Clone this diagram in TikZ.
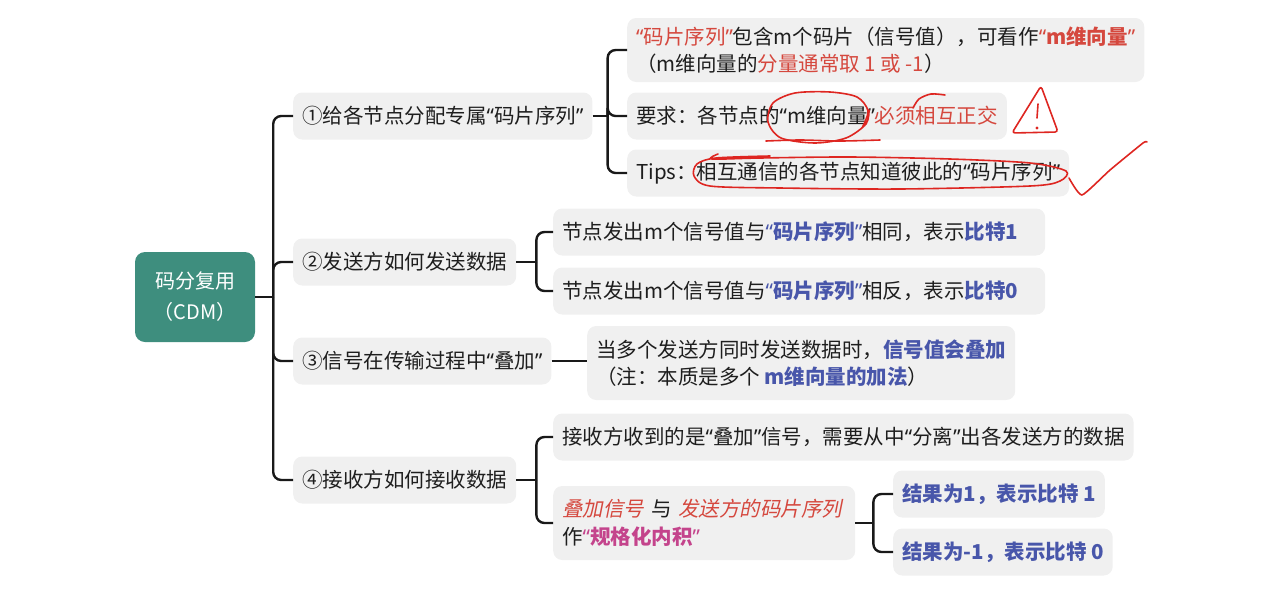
\documentclass[tikz,border=0pt]{standalone}
\usepackage{fontspec}
\setmainfont{Noto Sans CJK SC}
\newfontfamily\slantcjk[FakeSlant=0.2]{Noto Sans CJK SC}
\newfontfamily\quotefont{Noto Sans}
\usetikzlibrary{calc}

\definecolor{cdmteal}{RGB}{62,142,126}
\definecolor{boxgray}{RGB}{240,240,240}
\definecolor{inktext}{RGB}{30,30,30}
\definecolor{cdmred}{RGB}{213,72,62}
\definecolor{cdmblue}{RGB}{72,86,170}
\definecolor{cdmpink}{RGB}{196,68,140}
\definecolor{penred}{RGB}{222,38,33}

% narrow quotes
\newcommand{\oq}{{\quotefont “}}
\newcommand{\cq}{{\quotefont ”}}

\newcommand{\redtxt}[1]{\textcolor{cdmred}{#1}}
\newcommand{\redbf}[1]{\textcolor{cdmred}{\bfseries #1}}
\newcommand{\redit}[1]{\textcolor{cdmred}{\slantcjk #1}}
\newcommand{\bluebf}[1]{\textcolor{cdmblue}{\bfseries #1}}
\newcommand{\pinkbf}[1]{\textcolor{cdmpink}{\bfseries #1}}

\tikzset{
  rootbox/.style={fill=cdmteal, text=white, rounded corners=10pt,
    minimum width=120pt, minimum height=90pt, align=center,
    font=\fontsize{20}{31}\selectfont},
  topic/.style={fill=boxgray, text=inktext, rounded corners=9pt,
    inner xsep=9pt, minimum height=47pt, anchor=west, align=left,
    font=\fontsize{20.5}{27.5}\selectfont},
  tall/.style={minimum height=74pt},
  link/.style={draw=black!90, line width=2.4pt, rounded corners=8pt},
  pen/.style={draw=penred, line width=1.6pt, line cap=round, line join=round}
}

\begin{document}
\begin{tikzpicture}[x=1pt, y=-1pt]
    \useasboundingbox (0,0) rectangle (1288,592);

    % root
    \node[rootbox] (root) at (195,297) {码分复用\\（CDM）};

    % first level
    \node[topic] (b1) at (293,116) {①给各节点分配专属\oq 码片序列\cq};
    \node[topic] (b2) at (293,262) {②发送方如何发送数据};
    \node[topic] (b3) at (293,361) {③信号在传输过程中\oq 叠加\cq};
    \node[topic] (b4) at (293,480) {④接收方如何接收数据};

    % leaves of b1
    \node[topic, minimum height=64pt] (l11) at (627,50) {\redtxt{\oq 码片序列\cq}包含m个码片（信号值），可看作\redbf{\oq m维向量\cq}\\（m维向量的\redtxt{分量通常取 1 或 -1}）};
    \node[topic] (l12) at (627,116) {要求：各节点的\oq m维向量\cq\redtxt{必须相互正交}};
    \node[topic] (l13) at (627,173) {Tips：相互通信的各节点知道彼此的\oq 码片序列\cq};

    % leaves of b2
    \node[topic, text width=474pt] (l21) at (553,232) {节点发出m个信号值与\bluebf{\oq 码片序列\cq}相同，表示\bluebf{比特1}};
    \node[topic, text width=474pt] (l22) at (553,291) {节点发出m个信号值与\bluebf{\oq 码片序列\cq}相反，表示\bluebf{比特0}};

    % leaf of b3
    \node[topic, tall] (l31) at (587,363) {当多个发送方同时发送数据时，\bluebf{信号值会叠加}\\（注：本质是多个 \bluebf{m维向量的加法}）};

    % leaves of b4
    \node[topic] (l41) at (553,437) {接收方收到的是\oq 叠加\cq 信号，需要从中\oq 分离\cq 出各发送方的数据};
    \node[topic, tall, text width=284pt] (l42) at (553,523) {\redit{叠加信号} 与 \redit{发送方的码片序列}\\作\pinkbf{\oq 规格化内积\cq}};
    \node[topic] (l421) at (893,494) {\bluebf{结果为1，表示比特 1}};
    \node[topic] (l422) at (893,552) {\bluebf{结果为-1，表示比特 0}};

    % brackets
    \coordinate (rj) at ($(root.east)+(18,0)$);
    \draw[link] (root.east) -- (rj);
    \foreach \n in {b1,b2,b3,b4}
        \draw[link] (rj) |- (\n.west);

    \coordinate (j1) at ($(b1.east)+(15,0)$);
    \draw[link] (b1.east) -- (j1);
    \foreach \n in {l11,l12,l13}
        \draw[link] (j1) |- (\n.west);

    \coordinate (j2) at ($(b2.east)+(20,0)$);
    \draw[link] (b2.east) -- (j2);
    \foreach \n in {l21,l22}
        \draw[link] (j2) |- (\n.west);

    \draw[link] (b3.east) -- (b3.east -| l31.west);

    \coordinate (j4) at ($(b4.east)+(20,0)$);
    \draw[link] (b4.east) -- (j4);
    \foreach \n in {l41,l42}
        \draw[link] (j4) |- (\n.west);

    \coordinate (j42) at ($(l42.east)+(18,0)$);
    \draw[link] (l42.east) -- (j42);
    \foreach \n in {l421,l422}
        \draw[link] (j42) |- (\n.west);

    % red pen marks
    \draw[pen] plot[smooth] coordinates {(862,128) (868,111) (857,97) (830,92) (795,93) (773,103) (768,122) (781,138) (815,143) (846,138) (866,124) (869,110)};
    \draw[pen] plot[smooth] coordinates {(766,141) (800,140) (840,141) (880,140)};
    \draw[pen] plot[smooth] coordinates {(913,108) (919,99) (931,94) (945,95)};
    \draw[pen, rounded corners=3pt] (1041,86) -- (1012,133) -- (1058,132) -- cycle;
    \draw[pen] (1038,104) -- (1037,118);
    \fill[penred] (1037,128) circle (1.7);
    \draw[pen] plot[smooth] coordinates {(718,154) (712,159) (760,158) (850,157) (950,159) (1030,163) (1066,171) (1060,181) (1030,186) (900,189) (780,188) (710,186) (694,176) (697,164) (716,158) (770,156)};
    \draw[pen] plot[smooth, tension=0.3] coordinates {(1069,178) (1082,195) (1110,170) (1143,143) (1147,142)};
\end{tikzpicture}
\end{document}
